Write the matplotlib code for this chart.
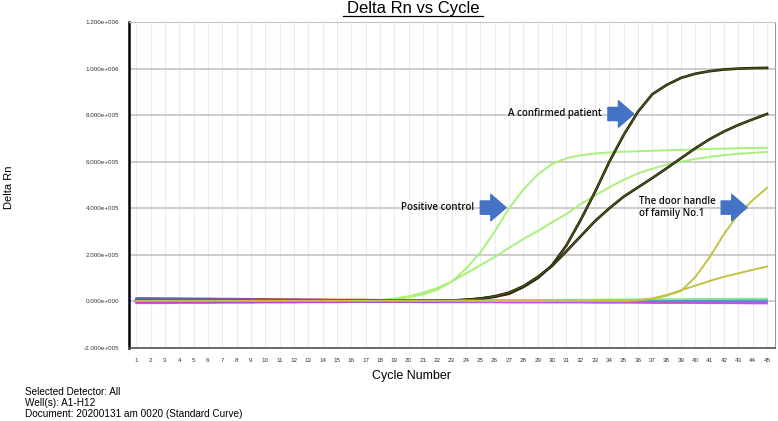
import numpy as np
import matplotlib.pyplot as plt
from matplotlib.lines import Line2D

# --- DATA (Delta Rn, in thousands) ---
cycles = np.arange(1, 46)

pos_ctrl_a = [2, 2, 2, 2, 2, 2, 2, 2, 2, 2, 2, 2, 2, 2, 2, 2, 3, 5, 10, 18,
              30, 50, 85, 140, 210, 300, 400, 480, 545, 590, 615, 628, 635, 640, 643,
              645, 647, 649, 651, 653, 655, 656, 658, 659, 660]
pos_ctrl_b = [2, 2, 2, 2, 2, 2, 2, 2, 2, 2, 2, 2, 2, 2, 2, 2, 3, 6, 12, 22,
              38, 58, 85, 120, 155, 190, 230, 268, 302, 340, 375, 418, 455, 490, 522,
              550, 570, 588, 600, 612, 621, 628, 634, 638, 642]
patient_a = [3, 3, 3, 3, 3, 3, 3, 3, 3, 3, 3, 3, 3, 3, 3, 3, 3, 3, 3, 3,
             3, 3, 4, 6, 12, 20, 33, 62, 100, 155, 240, 350, 470, 600, 715,
             815, 890, 930, 960, 978, 989, 996, 1000, 1002, 1003]
patient_b = [3, 3, 3, 3, 3, 3, 3, 3, 3, 3, 3, 3, 3, 3, 3, 3, 3, 3, 3, 3,
             3, 3, 4, 7, 12, 22, 38, 65, 105, 152, 215, 280, 345, 400, 450,
             490, 530, 572, 615, 658, 697, 730, 758, 782, 805]
door_a = [3, 3, 3, 3, 3, 3, 3, 3, 3, 3, 3, 3, 3, 3, 3, 3, 3, 3, 3, 3,
          3, 3, 3, 3, 3, 3, 3, 3, 3, 3, 3, 3, 3, 3, 3,
          6, 12, 25, 45, 105, 190, 290, 375, 435, 488]
door_b = [3, 3, 3, 3, 3, 3, 3, 3, 3, 3, 3, 3, 3, 3, 3, 3, 3, 3, 3, 3,
          3, 3, 3, 3, 3, 3, 3, 3, 3, 3, 3, 3, 3, 3, 3,
          5, 12, 28, 48, 68, 88, 106, 121, 136, 150]

# flat (negative) wells
base_red = [15, 15, 14, 14, 13, 13, 12, 12, 11, 11, 10, 10, 9, 9, 8, 8, 8, 7, 7, 7,
            6, 6, 6, 6, 5, 5, 5, 5, 5, 5, 5, 4, 4, 4, 4, 4, 4, 4, 4, 4, 4, 4, 4, 4, 4]
base_blue = [11, 11, 10, 10, 10, 9, 9, 9, 9, 8, 8, 8, 8, 7, 7, 7, 7, 6, 6, 6,
             6, 5, 5, 5, 5, 5, 4, 4, 4, 4, 4, 4, 3, 3, 3, 3, 3, 3, 3, 3, 3, 3, 3, 3, 3]
base_cyan = [7, 7, 7, 7, 7, 7, 7, 7, 6, 6, 6, 6, 6, 6, 6, 6, 6, 6, 6, 6,
             6, 6, 6, 6, 6, 6, 6, 6, 6, 6, 6, 6, 6, 6, 6, 7, 7, 7, 7, 7, 7, 7, 7, 7, 7]
base_green = [1, 1, 1, 1, 1, 1, 1, 1, 2, 2, 2, 2, 2, 2, 3, 3, 3, 3, 4, 4,
              4, 5, 5, 5, 6, 6, 6, 7, 7, 7, 8, 8, 8, 9, 9, 9, 10, 10, 10, 11, 11, 11, 12, 12, 12]
base_purple = [-8, -8, -8, -7, -7, -7, -6, -6, -6, -5, -5, -5, -4, -4, -4, -3, -3, -3, -3, -3,
               -3, -3, -3, -3, -3, -3, -3, -3, -3, -3, -3, -3, -3, -3, -3,
               -4, -4, -4, -4, -4, -4, -4, -4, -4, -4]
base_magenta = [-3, -3, -3, -3, -3, -3, -3, -3, -3, -3, -3, -3, -3, -3, -3, -3, -3, -3, -3, -3,
                -4, -4, -4, -4, -4, -4, -5, -5, -5, -5, -5, -5, -6, -6, -6, -6, -7, -7, -7, -7,
                -8, -8, -8, -9, -9]

y_ticks = [-200, 0, 200, 400, 600, 800, 1000, 1200]
y_tick_labels = ['-2.000e+005', '0.000e+000', '2.000e+005', '4.000e+005',
                 '6.000e+005', '8.000e+005', '1.000e+006', '1.200e+006']

footer = ['Selected Detector: All', 'Well(s): A1-H12',
          'Document: 20200131 am 0020 (Standard Curve)']

# --- PLOT ---
plt.rcParams['font.family'] = ['Liberation Sans', 'DejaVu Sans']
fig = plt.figure(figsize=(7.78, 4.21), dpi=100)
ax = fig.add_axes([0.1658, 0.1734, 0.8303, 0.7743])

baselines = [(base_red, '#c84646'), (base_blue, '#4664d2'), (base_cyan, '#46c8e6'),
             (base_green, '#8ce68c'), (base_purple, '#a064e6'), (base_magenta, '#c850dc')]
for vals, col in baselines:
    ax.plot(cycles, vals, color=col, lw=1.2, zorder=2)

ax.plot(cycles, pos_ctrl_a, color='#aaf07c', lw=1.4, zorder=3)
ax.plot(cycles, pos_ctrl_b, color='#aaf07c', lw=1.4, zorder=3)
for vals in (patient_a, patient_b):
    ax.plot(cycles, vals, color='#1a1a05', lw=1.9, zorder=3)
    ax.plot(cycles, vals, color='#54541a', lw=0.9, zorder=3)
ax.plot(cycles, door_a, color='#c2c244', lw=1.4, zorder=3)
ax.plot(cycles, door_b, color='#c2c244', lw=1.4, zorder=3)

ax.set_xlim(0.5, 45.55)
ax.set_ylim(-200, 1200)
ax.set_xticks(cycles)
ax.set_xticklabels([str(c) for c in cycles], fontsize=4.5, color='#333333')
ax.set_yticks(y_ticks)
ax.set_yticklabels(y_tick_labels, fontsize=4.5, color='#333333')
ax.tick_params(length=0, pad=7)

ax.grid(axis='y', color='#c4c4c4', lw=1.2, zorder=0)
for c in cycles:
    ax.axvline(c, color='#ececec', lw=0.8, zorder=0)

ax.spines['left'].set_color('black')
ax.spines['left'].set_linewidth(1.8)
ax.spines['bottom'].set_color('#555555')
ax.spines['bottom'].set_linewidth(1.2)
ax.spines['right'].set_color('#999999')
ax.spines['top'].set_color('#c4c4c4')

# annotations
ann_font = ['Open Sans', 'DejaVu Sans']
arrow_props = dict(arrowstyle='simple,head_width=1.9,head_length=1.1,tail_width=0.95',
                   color='#4472c4', shrinkA=0, shrinkB=0)
ax.text(33.5, 805, 'A confirmed patient', ha='right', va='center', fontsize=7,
        family=ann_font, color='#111111', weight='semibold')
ax.annotate('', xy=(35.7, 805), xytext=(33.9, 805), arrowprops=arrow_props)
ax.text(24.6, 403, 'Positive control', ha='right', va='center', fontsize=7,
        family=ann_font, color='#111111', weight='semibold')
ax.annotate('', xy=(26.8, 403), xytext=(25.0, 403), arrowprops=arrow_props)
ax.text(36.1, 403, 'The door handle\nof family No.1', ha='left', va='center', fontsize=7,
        family=ann_font, color='#111111', weight='semibold', linespacing=1.15)
ax.annotate('', xy=(43.6, 403), xytext=(41.8, 403), arrowprops=arrow_props)

# titles and labels
fig.text(0.531, 1 - 13 / 421, 'Delta Rn vs Cycle', ha='center', va='baseline', fontsize=12)
fig.add_artist(Line2D([343 / 778, 483 / 778], [1 - 15.5 / 421, 1 - 15.5 / 421],
                      color='black', lw=0.9))
fig.text(0.011, 1 - 187 / 421, 'Delta Rn', rotation=90, ha='center', va='center', fontsize=8)
fig.text(412 / 778, 1 - 376 / 421, 'Cycle Number', ha='center', va='center', fontsize=9)
for i, line in enumerate(footer):
    fig.text(25 / 778, 1 - (392 + 11 * i) / 421, line, ha='left', va='center', fontsize=7.2)

fig.savefig('out.png', dpi=100)
